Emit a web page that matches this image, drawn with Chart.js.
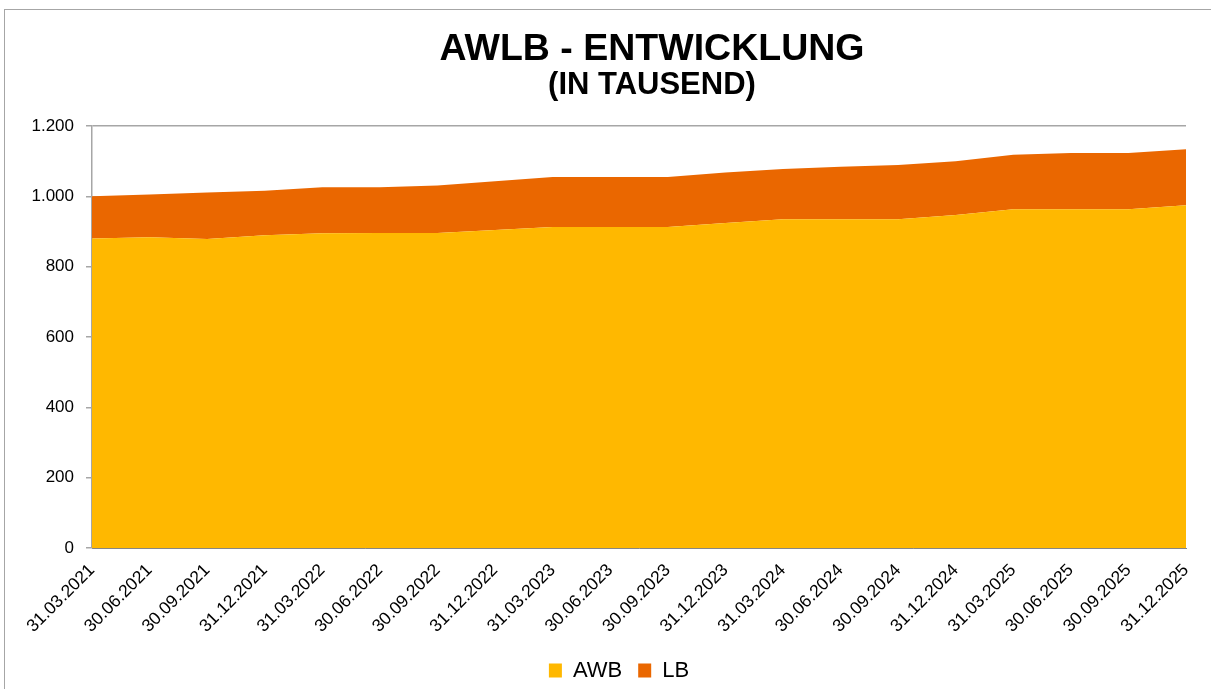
<!DOCTYPE html>
<html>
<head>
<meta charset="utf-8">
<script src="https://cdn.jsdelivr.net/npm/chart.js@4"></script>
<style>
  html, body { margin: 0; padding: 0; background: #fff; overflow: hidden; }
  #frame { position: absolute; left: 4px; top: 9px; width: 1400px; height: 900px; border: 1px solid #a6a6a6; }
  #wrap { position: absolute; left: 0; top: 0; width: 1211px; height: 689px; }
</style>
</head>
<body>
<div id="frame"></div>
<div id="wrap"><canvas id="chart-area" width="1211" height="689"></canvas></div>
<script>
// Quartale
var labels = ['31.03.2021', '30.06.2021', '30.09.2021', '31.12.2021', '31.03.2022', '30.06.2022', '30.09.2022', '31.12.2022',
	'31.03.2023', '30.06.2023', '30.09.2023', '31.12.2023', '31.03.2024', '30.06.2024', '30.09.2024', '31.12.2024',
	'31.03.2025', '30.06.2025', '30.09.2025', '31.12.2025'];
// Werte in Tausend
var awb = [880, 884, 879, 889, 895, 896, 896, 904, 913, 913, 913, 924, 935, 935, 935, 947, 963, 963, 963, 975];
var lb = [120, 121, 132, 127, 131, 130, 135, 139, 142, 142, 142, 144, 143, 149, 154, 153, 155, 160, 160, 159];

var titleText = 'AWLB - ENTWICKLUNG';
var subText = '(IN TAUSEND)';

var fontFam = "'Liberation Sans', Arial, sans-serif";

// 1200 -> "1.200"
function fmt(v) {
	return String(v).replace(/\B(?=(\d{3})+(?!\d))/g, '.');
}

// Titel wie im Excel-Diagramm (leicht rechts der Mitte)
var titlePlugin = {
	id: 'excelTitle',
	afterLayout: function(chart) {
		// Legende etwas nach rechts schieben
		chart.legend.left += 26;
		chart.legend.right += 26;
	},
	afterDraw: function(chart) {
		var c = chart.ctx;
		c.save();
		c.fillStyle = '#000';
		c.textAlign = 'center';
		c.textBaseline = 'alphabetic';
		c.font = 'bold 37.5px ' + fontFam;
		c.fillText(titleText, 652, 60);
		c.font = 'bold 31px ' + fontFam;
		c.fillText(subText, 652, 94);
		c.restore();
	}
};

var ctx = document.getElementById('chart-area');
var myChart = new Chart(ctx, {
	type: 'line',
	data: {
		labels: labels,
		datasets: [
			{ label: 'AWB', data: awb, backgroundColor: '#FFB800', borderColor: '#FFB800', borderWidth: 0, fill: 'origin', pointRadius: 0, tension: 0 },
			{ label: 'LB', data: lb, backgroundColor: '#EA6700', borderColor: '#EA6700', borderWidth: 0, fill: '-1', pointRadius: 0, tension: 0 }
		]
	},
	plugins: [titlePlugin],
	options: {
		responsive: false,
		animation: false,
		layout: { padding: { left: 0, right: 25, top: 126, bottom: 0 } },
		plugins: {
			title: { display: false },
			legend: {
				position: 'bottom',
				maxHeight: 45.5,
				labels: {
					color: '#000',
					font: { family: fontFam, size: 22 },
					boxWidth: 13,
					boxHeight: 14,
					padding: 16
				}
			},
			tooltip: { enabled: false }
		},
		scales: {
			x: {
				stacked: true,
				offset: false,
				grid: { display: false },
				border: { display: true, color: '#868686', width: 1 },
				ticks: {
					color: '#000',
					font: { family: fontFam, size: 17.5 },
					maxRotation: 45,
					minRotation: 45,
					autoSkip: false,
					padding: 4
				},
				afterFit: function(scale) { scale.height = 95.5; }
			},
			y: {
				stacked: true,
				min: 0,
				max: 1200,
				grid: { color: '#a6a6a6', lineWidth: 1.5, tickLength: 6, drawTicks: true },
				border: { display: true, color: '#a6a6a6', width: 1.5 },
				ticks: {
					stepSize: 200,
					color: '#000',
					font: { family: fontFam, size: 17 },
					padding: 12,
					callback: function(v) { return fmt(v); }
				},
				afterFit: function(scale) { scale.width = 92; }
			}
		}
	}
});
</script>
</body>
</html>
